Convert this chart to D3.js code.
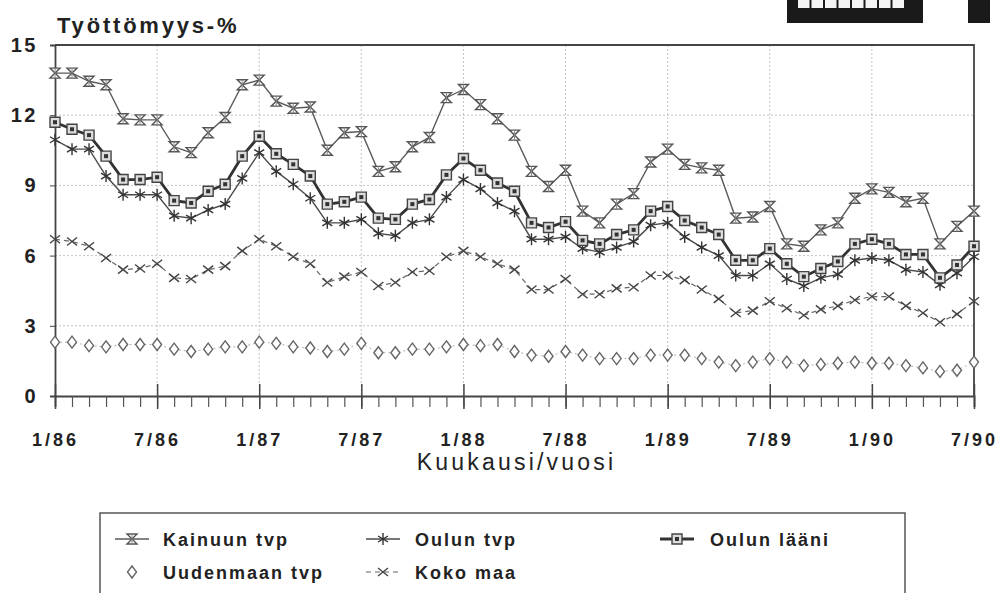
<!DOCTYPE html>
<html>
<head>
<meta charset="utf-8">
<script src="https://cdn.jsdelivr.net/npm/d3@7"></script>
<style>
  body { margin: 0; background: #fff; }
  svg { display: block; }
  text { font-family: "Liberation Sans", Arial, sans-serif; fill: #222; }
  .tick text { font-weight: bold; font-size: 18px; letter-spacing: 3px; fill: #222; }
  .ytick .tick text { font-size: 20px; letter-spacing: 2.5px; }
  .grid line { stroke: #c4c4c4; stroke-dasharray: 2,2; }
</style>
</head>
<body>
<div id="chart"></div>
<script>
/* global d3 */
// month index 0 = 1/86 ... 54 = 7/90
let monthLabels = ["1/86", "7/86", "1/87", "7/87", "1/88", "7/88", "1/89", "7/89", "1/90", "7/90"]
let yTicks = [0, 3, 6, 9, 12, 15]

let kainuu = [13.8, 13.8, 13.45, 13.3, 11.85, 11.8, 11.8, 10.65, 10.4, 11.25, 11.9, 13.3, 13.5,
  12.6, 12.3, 12.35, 10.5, 11.25, 11.3, 9.6, 9.8, 10.65, 11.05, 12.75, 13.1, 12.45, 11.85,
  11.15, 9.6, 8.95, 9.65, 7.9, 7.4, 8.2, 8.65, 10.0, 10.55, 9.9, 9.75, 9.65, 7.6, 7.65,
  8.1, 6.5, 6.4, 7.1, 7.4, 8.45, 8.85, 8.7, 8.3, 8.45, 6.5, 7.25, 7.9]
let oulunTvp = [10.95, 10.55, 10.55, 9.4, 8.6, 8.6, 8.6, 7.7, 7.6, 7.95, 8.2, 9.3, 10.4,
  9.6, 9.05, 8.45, 7.4, 7.4, 7.55, 6.95, 6.85, 7.4, 7.55, 8.5, 9.25, 8.85, 8.25,
  7.9, 6.7, 6.7, 6.8, 6.3, 6.15, 6.35, 6.6, 7.3, 7.4, 6.8, 6.35, 6.0, 5.15, 5.15,
  5.65, 5.0, 4.7, 5.05, 5.2, 5.8, 5.9, 5.8, 5.4, 5.3, 4.75, 5.25, 5.95]
let oulunLaani = [11.7, 11.4, 11.15, 10.25, 9.25, 9.25, 9.35, 8.35, 8.25, 8.75, 9.05, 10.25, 11.1,
  10.35, 9.9, 9.4, 8.2, 8.3, 8.5, 7.6, 7.55, 8.2, 8.4, 9.45, 10.15, 9.65, 9.1,
  8.75, 7.4, 7.2, 7.45, 6.65, 6.5, 6.9, 7.1, 7.9, 8.1, 7.5, 7.2, 6.9, 5.8, 5.8,
  6.3, 5.65, 5.1, 5.45, 5.75, 6.5, 6.7, 6.5, 6.05, 6.05, 5.05, 5.6, 6.4]
let uusimaa = [2.3, 2.3, 2.15, 2.1, 2.2, 2.2, 2.2, 2.0, 1.9, 2.0, 2.1, 2.1, 2.3,
  2.25, 2.1, 2.05, 1.9, 2.0, 2.25, 1.85, 1.85, 2.0, 2.0, 2.1, 2.2, 2.15, 2.2,
  1.9, 1.75, 1.7, 1.9, 1.75, 1.6, 1.6, 1.6, 1.75, 1.75, 1.75, 1.6, 1.45, 1.3, 1.45,
  1.6, 1.45, 1.3, 1.35, 1.4, 1.45, 1.4, 1.4, 1.3, 1.2, 1.05, 1.1, 1.45]
let kokoMaa = [6.7, 6.6, 6.4, 5.9, 5.4, 5.45, 5.65, 5.05, 5.0, 5.4, 5.55, 6.2, 6.7,
  6.4, 5.95, 5.65, 4.85, 5.1, 5.3, 4.7, 4.85, 5.3, 5.35, 5.95, 6.2, 5.95, 5.65,
  5.4, 4.55, 4.55, 5.0, 4.35, 4.35, 4.6, 4.65, 5.15, 5.15, 4.95, 4.55, 4.15, 3.55, 3.65,
  4.05, 3.75, 3.45, 3.7, 3.85, 4.1, 4.25, 4.25, 3.85, 3.55, 3.15, 3.5, 4.05]

let seriesNames = ["Kainuun tvp", "Oulun tvp", "Oulun lääni", "Uudenmaan tvp", "Koko maa"]
let seriesValues = [kainuu, oulunTvp, oulunLaani, uusimaa, kokoMaa]

// marker shapes and line looks per series
let markers = {
  "Kainuun tvp": "M-5,-5H5L-5,5H5Z",
  "Oulun tvp": "M0,-6V6M-5,-3L5,3M-5,3L5,-3",
  "Oulun lääni": "M-5,-5H5V5H-5Z",
  "Uudenmaan tvp": "M0,-6L4.5,0L0,6L-4.5,0Z",
  "Koko maa": "M-5,-4L5,4M-5,4L5,-4"
}
let looks = {
  "Kainuun tvp": {stroke: "#5a5a5a", width: 1.4, dash: null, mstroke: "#555", mfill: "#fff"},
  "Oulun tvp": {stroke: "#4a4a4a", width: 1.4, dash: null, mstroke: "#333", mfill: "none"},
  "Oulun lääni": {stroke: "#333", width: 2.8, dash: null, mstroke: "#444", mfill: "#ddd"},
  "Uudenmaan tvp": {stroke: "#b0b0b0", width: 1, dash: "2,3", mstroke: "#666", mfill: "#fff"},
  "Koko maa": {stroke: "#666", width: 1.2, dash: "5,4", mstroke: "#444", mfill: "none"}
}

let W = 1004, H = 593
let margin = {top: 45, right: 30, bottom: 197, left: 55}

let svg = d3.select("#chart").append("svg")
  .attr("width", W)
  .attr("height", H)

// scan leftovers at the top right
svg.append("rect").attr("x", 787).attr("y", 0).attr("width", 136).attr("height", 23).attr("fill", "#1a1a1a")
for (let i = 0; i < 8; i++) {
  svg.append("rect").attr("x", 798 + i * 13.5).attr("y", 0).attr("width", 11.5).attr("height", 8).attr("fill", "#f4f4f4")
}
svg.append("rect").attr("x", 968).attr("y", 0).attr("width", 22).attr("height", 23).attr("fill", "#1a1a1a")

let xScale = d3.scaleLinear().domain([0, 54]).range([margin.left, W - margin.right])
let yScale = d3.scaleLinear().domain([0, 15]).range([H - margin.bottom, margin.top])
let x0 = xScale(0), x1 = xScale(54), yb = yScale(0), yt = yScale(15)

// GRID
svg.append("g").attr("class", "grid")
  .selectAll("line.h").data(yTicks.slice(1, -1)).enter().append("line")
  .attr("x1", x0).attr("x2", x1)
  .attr("y1", d => yScale(d)).attr("y2", d => yScale(d))
svg.append("g").attr("class", "grid")
  .selectAll("line.v").data(d3.range(6, 54, 6)).enter().append("line")
  .attr("x1", d => xScale(d)).attr("x2", d => xScale(d))
  .attr("y1", yt).attr("y2", yb)

// frame top + right
svg.append("path")
  .attr("d", "M" + x0 + "," + yt + "H" + x1 + "V" + yb)
  .attr("fill", "none").attr("stroke", "#444").attr("stroke-width", 1.8)

// X AXIS: minor ticks every month, bigger ones every half year
let xMinor = d3.axisBottom(xScale).tickValues(d3.range(0, 55)).tickSize(11).tickFormat("")
let gx = svg.append("g").attr("transform", "translate(0," + yb + ")").call(xMinor)
gx.select(".domain").attr("stroke", "#444").attr("stroke-width", 1.8)
gx.selectAll(".tick line").attr("stroke", "#555").attr("stroke-width", 1.2)

let xMajor = d3.axisBottom(xScale).tickValues(d3.range(0, 55, 6))
  .tickSize(13).tickPadding(24)
  .tickFormat((d, i) => monthLabels[i])
let gx2 = svg.append("g").attr("transform", "translate(0," + yb + ")").call(xMajor)
gx2.select(".domain").remove()
gx2.selectAll(".tick line").attr("y1", -12).attr("stroke", "#444").attr("stroke-width", 1.5)

svg.append("text")
  .attr("x", (x0 + x1) / 2 + 2).attr("y", 470)
  .attr("text-anchor", "middle")
  .style("font-size", "23px").style("letter-spacing", "3.2px")
  .text("Kuukausi/vuosi")

// Y AXIS
let yAxis = d3.axisLeft(yScale).tickValues(yTicks).tickSize(5).tickPadding(12)
let gy = svg.append("g").attr("class", "ytick").attr("transform", "translate(" + x0 + ",0)").call(yAxis)
gy.select(".domain").attr("stroke", "#444").attr("stroke-width", 1.8)
gy.selectAll(".tick line").attr("stroke", "#444")

svg.append("text")
  .attr("x", 57).attr("y", 33)
  .style("font-size", "22px").style("font-weight", "bold").style("letter-spacing", "2.8px")
  .text("Työttömyys-%")

// SERIES
let line = d3.line().x((d, i) => xScale(i)).y(d => yScale(d))

function drawMarker(g, name, cx, cy) {
  let lk = looks[name]
  g.append("path")
    .attr("transform", "translate(" + cx + "," + cy + ")")
    .attr("d", markers[name])
    .attr("fill", lk.mfill).attr("stroke", lk.mstroke).attr("stroke-width", 1.4)
  if (name === "Oulun lääni") {
    g.append("rect").attr("x", cx - 2).attr("y", cy - 2).attr("width", 4).attr("height", 4).attr("fill", "#333")
  }
  if (name === "Kainuun tvp") {
    g.append("path").attr("transform", "translate(" + cx + "," + cy + ")")
      .attr("d", "M0,-5V5").attr("stroke", "#888").attr("stroke-width", 1)
  }
}

let drawOrder = [3, 4, 0, 1, 2]
drawOrder.forEach(function(k) {
  let name = seriesNames[k]
  let lk = looks[name]
  let g = svg.append("g").attr("class", "series")
  g.append("path")
    .datum(seriesValues[k])
    .attr("d", line)
    .attr("fill", "none")
    .attr("stroke", lk.stroke)
    .attr("stroke-width", lk.width)
    .attr("stroke-dasharray", lk.dash)
  seriesValues[k].forEach(function(v, i) {
    drawMarker(g, name, xScale(i), yScale(v))
  })
})

// LEGEND
svg.append("path")
  .attr("d", "M100," + H + "V513H905V" + H)
  .attr("fill", "none").attr("stroke", "#555").attr("stroke-width", 1.5)

let legendPos = [
  {sx: 115, tx: 163, y: 546},
  {sx: 366, tx: 415, y: 546},
  {sx: 660, tx: 710, y: 546},
  {sx: 115, tx: 163, y: 579},
  {sx: 366, tx: 415, y: 579}
]
seriesNames.forEach(function(name, k) {
  let p = legendPos[k]
  let lk = looks[name]
  let g = svg.append("g")
  if (name !== "Uudenmaan tvp") {
    g.append("line")
      .attr("x1", p.sx).attr("x2", p.sx + 34)
      .attr("y1", p.y - 7).attr("y2", p.y - 7)
      .attr("stroke", lk.stroke).attr("stroke-width", lk.width)
      .attr("stroke-dasharray", lk.dash)
  }
  drawMarker(g, name, p.sx + 17, p.y - 7)
  g.append("text")
    .attr("x", p.tx).attr("y", p.y)
    .style("font-size", "18px").style("font-weight", "bold").style("letter-spacing", "2px")
    .text(name)
})
</script>
</body>
</html>
